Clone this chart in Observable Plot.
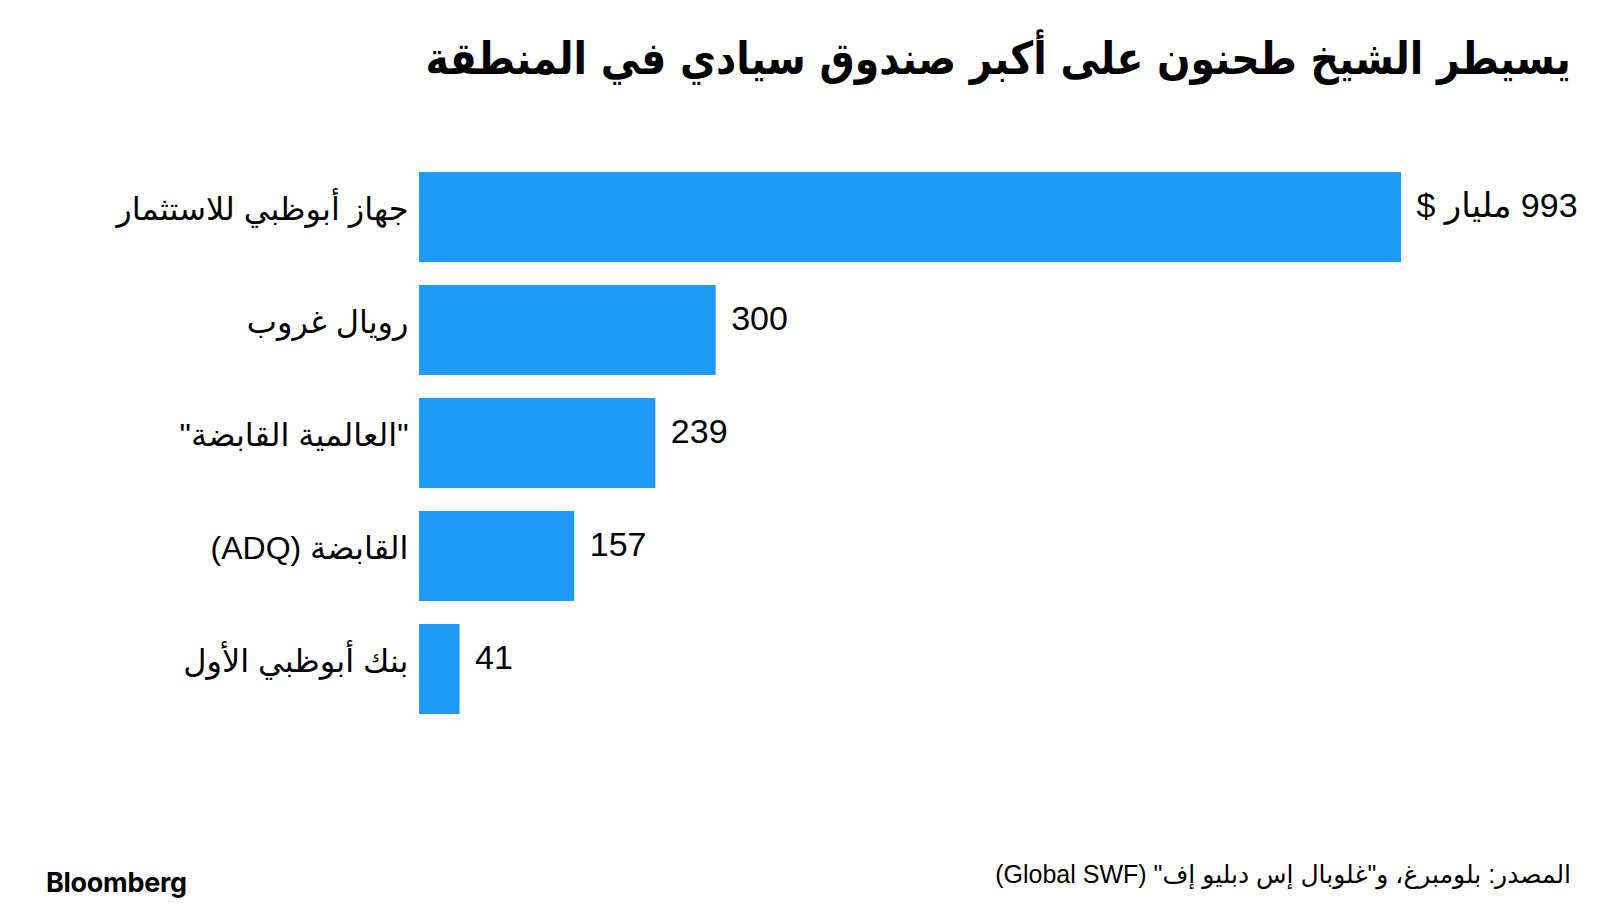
<!DOCTYPE html>
<html>
<head>
<meta charset="utf-8">
<script src="https://cdn.jsdelivr.net/npm/d3@7"></script>
<script src="https://cdn.jsdelivr.net/npm/@observablehq/plot@0.6"></script>
<style>
  html, body { margin: 0; padding: 0; background: #fff; width: 1600px; height: 916px; overflow: hidden; }
  #wrap { position: relative; width: 1600px; height: 916px; }
  #title { position: absolute; top: 32px; right: 29px; direction: rtl; text-align: right;
    font-family: "DejaVu Sans", sans-serif; font-weight: 700; font-size: 45px; color: #000; white-space: nowrap;
    transform: scaleX(0.875); transform-origin: right center; }
  #chart { position: absolute; top: 0; left: 0; }
  #source { position: absolute; top: 860px; right: 29px; direction: rtl; text-align: right;
    font-family: "Liberation Sans", "DejaVu Sans", sans-serif; font-size: 25px; color: #000; white-space: nowrap; }
  #logo { position: absolute; top: 866px; left: 46px; font-family: Inter, "Liberation Sans", sans-serif;
    font-weight: 700; font-size: 27px; color: #000; letter-spacing: -0.3px; }
</style>
</head>
<body>
<div id="wrap">
  <div id="title"></div>
  <div id="chart"></div>
  <div id="source"></div>
  <div id="logo">Bloomberg</div>
</div>
<script>
const titleText = "يسيطر الشيخ طحنون على أكبر صندوق سيادي في المنطقة";
const sourceText = "المصدر: بلومبرغ، و\"غلوبال إس دبليو إف\" (Global SWF)";
const funds = ["جهاز أبوظبي للاستثمار", "رويال غروب", "\"العالمية القابضة\"", "القابضة (ADQ)", "بنك أبوظبي الأول"];
const assets = [993, 300, 239, 157, 41];
const valueLabels = ["993 مليار $", "300", "239", "157", "41"];

document.getElementById("title").textContent = titleText;
document.getElementById("source").textContent = sourceText;

const data = funds.map((f, i) => ({fund: f, value: assets[i], label: valueLabels[i]}));
const iso = s => "\u2067" + s + "\u2069";

const chart = Plot.plot({
  width: 1600,
  height: 800,
  marginLeft: 419,
  marginRight: 199,
  marginTop: 148,
  marginBottom: 61,
  style: {fontFamily: "\"Liberation Sans\", \"DejaVu Sans\", sans-serif", background: "transparent", color: "#000"},
  x: {domain: [0, 993], axis: null},
  y: {domain: funds, padding: 0.2, label: null},
  marks: [
    Plot.barX(data, {x: "value", y: "fund", fill: "#1e9bfa"}),
    Plot.axisY({tickSize: 0, tickPadding: 11, fontSize: 32, dy: -8, tickFormat: d => iso(d), label: null}),
    Plot.text(data, {x: "value", y: "fund", text: d => iso(d.label), textAnchor: "start", dx: 15, dy: -11, fontSize: 34, fill: "#000"})
  ]
});
document.getElementById("chart").appendChild(chart);
</script>
</body>
</html>
